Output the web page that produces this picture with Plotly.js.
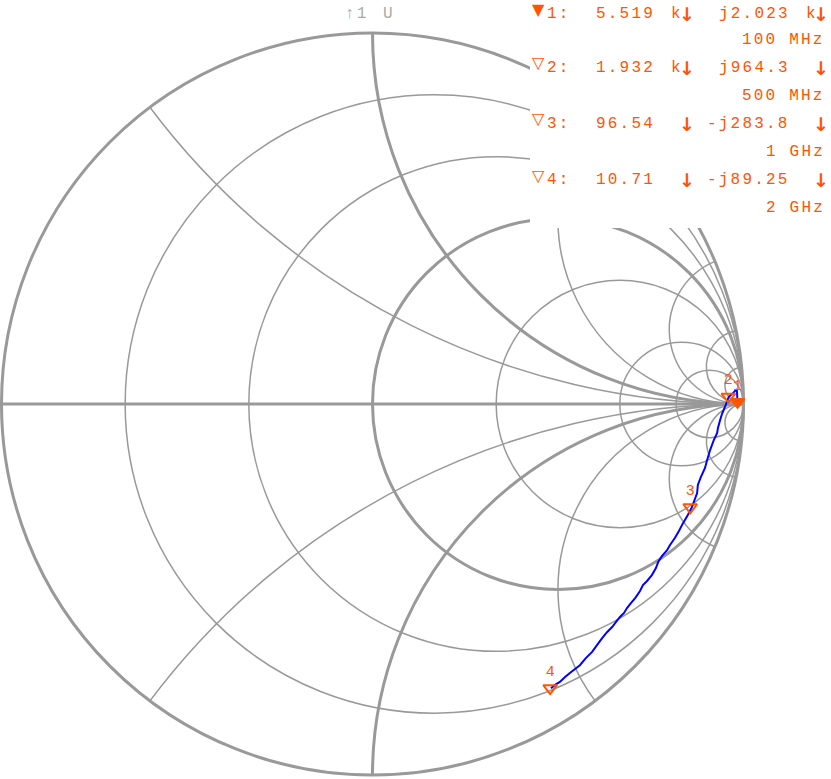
<!DOCTYPE html>
<html><head><meta charset="utf-8">
<script src="https://cdn.plot.ly/plotly-3.0.1.min.js"></script>
<style>
html,body{margin:0;padding:0;background:#fff;}
#chart{width:831px;height:779px;}
.annotation-text{letter-spacing:2.2px;}
</style></head><body><div id="chart"></div>
<script>
const Z0 = 50;
const markerNames = ['1', '2', '3', '4'];
const markerFreqs = ['100 MHz', '500 MHz', '1 GHz', '2 GHz'];
const markerResOhm = [5519, 1932, 96.54, 10.71];
const markerReactOhm = [2023, 964.3, -283.8, -89.25];
const markerResText = ['5.519', '1.932', '96.54', '10.71'];
const markerResUnit = ['k', 'k', '', ''];
const markerReactText = ['j2.023', 'j964.3', '-j283.8', '-j89.25'];
const markerReactUnit = ['k', '', '', ''];

// trace (Re, Im)
const traceGammaRe = [0.984,0.982,0.972,0.960,0.950,0.942,0.937,0.931,0.929,0.920,0.910,0.902,0.896,0.885,0.877,0.875,0.861,0.850,0.837,0.826,0.815,0.802,0.794,0.780,0.770,0.764,0.753,0.740,0.729,0.721,0.708,0.697,0.686,0.678,0.667,0.656,0.646,0.632,0.619,0.605,0.592,0.575,0.559,0.546,0.532,0.519,0.505,0.492,0.481];
const traceGammaIm = [0.005,0.040,0.030,0.019,-0.008,-0.027,-0.043,-0.065,-0.078,-0.097,-0.124,-0.151,-0.173,-0.197,-0.218,-0.240,-0.278,-0.299,-0.321,-0.342,-0.361,-0.380,-0.394,-0.410,-0.426,-0.442,-0.461,-0.477,-0.488,-0.504,-0.523,-0.536,-0.550,-0.563,-0.574,-0.588,-0.601,-0.615,-0.631,-0.650,-0.668,-0.685,-0.704,-0.714,-0.725,-0.736,-0.749,-0.757,-0.766];

const resistanceGrid = [0.2, 0.5, 1, 2, 5, 10];
const reactanceGrid = [-20, -10, -5, -2, -1, -0.5, 0.5, 1, 2, 5, 10, 20];
const emphasisR = [1];
const emphasisX = [-1, 1];

// Gamma -> normalized impedance
function gammaToZ(re, im) {
  const d = (1 - re) * (1 - re) + im * im;
  return [(1 - re * re - im * im) / d, 2 * im / d];
}
const traceR = [], traceX = [];
for (let i = 0; i < traceGammaRe.length; i++) {
  const z = gammaToZ(traceGammaRe[i], traceGammaIm[i]);
  traceR.push(z[0]); traceX.push(z[1]);
}

const ORANGE = '#ff5500';
const GRID = '#999999';

const traces = [
  {type: 'scattersmith', subplot: 'smith', real: [], imag: [], mode: 'lines', hoverinfo: 'skip'},
  {type: 'scattersmith', subplot: 'smith2', real: traceR, imag: traceX, mode: 'lines',
   line: {color: '#0000ff', width: 2}, hoverinfo: 'skip'},
  {type: 'scattersmith', subplot: 'smith2',
   real: markerResOhm.map(v => v / Z0), imag: markerReactOhm.map(v => v / Z0),
   mode: 'markers+text', text: markerNames, textposition: 'top center',
   textfont: {family: 'Liberation Mono', size: 15, color: ORANGE},
   marker: {symbol: ['triangle-down', 'triangle-down-open', 'triangle-down-open', 'triangle-down-open'],
            size: 12, color: ORANGE, line: {color: ORANGE, width: 2}},
   hoverinfo: 'skip'}
];

const W = 831, H = 779;
const annotations = [];
function txt(s, px, py, opts) {
  opts = opts || {};
  annotations.push({
    text: s, xref: 'paper', yref: 'paper', x: px / W, y: 1 - py / H,
    xanchor: opts.anchor || 'left', yanchor: 'middle', showarrow: false,
    font: {family: opts.family || 'Liberation Mono', size: opts.size || 16, color: opts.color || ORANGE,
           weight: opts.weight || 'normal'},
    borderpad: 0
  });
}
const rowY = [14, 68, 124, 180];
const freqY = [40, 96, 152, 208];
for (let i = 0; i < 4; i++) {
  const y = rowY[i];
  txt(i === 0 ? '▼' : '▽', 539, y - 5, {family: 'DejaVu Sans', size: 16, anchor: 'center', weight: 'bold'});
  txt(markerNames[i] + ':', 546, y);
  txt(markerResText[i], 595, y);
  if (markerResUnit[i]) txt(markerResUnit[i], 670, y);
  txt('↓', 688, y, {family: 'DejaVu Sans', size: 19, weight: 'bold', anchor: 'center'});
  const jx = markerReactText[i].charAt(0) === '-' ? 706 : 718;
  txt(markerReactText[i], jx, y);
  if (markerReactUnit[i]) txt(markerReactUnit[i], 805, y);
  txt('↓', 822, y, {family: 'DejaVu Sans', size: 19, weight: 'bold', anchor: 'center'});
  const fx = markerFreqs[i].length === 7 ? 741 : 765;
  txt(markerFreqs[i], fx, freqY[i]);
}
txt('↑1', 344, 14, {color: '#aaaaaa'});
txt('U', 382, 14, {color: '#aaaaaa'});

const axisCommon = {showticklabels: false, ticks: '', gridcolor: GRID, linecolor: GRID};
const layout = {
  width: W, height: H,
  margin: {l: 0, r: 0, t: 0, b: 0},
  paper_bgcolor: '#ffffff',
  showlegend: false,
  smith: {
    domain: {x: [0.0018, 0.8947], y: [0.0051, 0.9576]},
    bgcolor: '#ffffff',
    realaxis: Object.assign({tickvals: resistanceGrid, gridwidth: 1.5, linewidth: 3, showline: true}, axisCommon),
    imaginaryaxis: Object.assign({tickvals: reactanceGrid, gridwidth: 1.5, linewidth: 3, showline: true}, axisCommon)
  },
  smith2: {
    domain: {x: [0.0018, 0.8947], y: [0.0051, 0.9576]},
    bgcolor: 'rgba(0,0,0,0)',
    realaxis: Object.assign({tickvals: emphasisR, gridwidth: 3, showline: false}, axisCommon),
    imaginaryaxis: Object.assign({tickvals: emphasisX, gridwidth: 3, showline: false}, axisCommon)
  },
  shapes: [{type: 'rect', xref: 'paper', yref: 'paper', x0: 530 / W, x1: 1, y0: 1 - 228 / H, y1: 1,
            fillcolor: '#ffffff', line: {width: 0}, layer: 'above'}],
  annotations: annotations
};
Plotly.newPlot('chart', traces, layout, {staticPlot: true, displayModeBar: false});
</script></body></html>
